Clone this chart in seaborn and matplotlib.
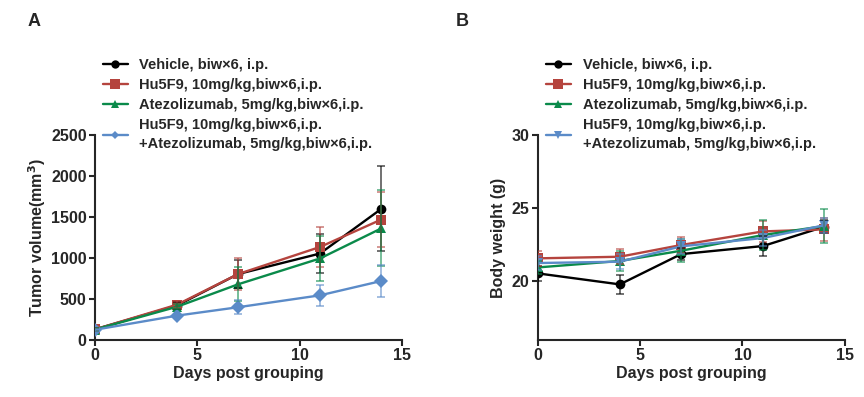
import numpy as np
import pandas as pd
import seaborn as sns
import matplotlib.pyplot as plt

# dane
days = [0, 4, 7, 11, 14]
groups = ['Vehicle, biw×6, i.p.',
          'Hu5F9, 10mg/kg,biw×6,i.p.',
          'Atezolizumab, 5mg/kg,biw×6,i.p.',
          'Hu5F9, 10mg/kg,biw×6,i.p.\n+Atezolizumab, 5mg/kg,biw×6,i.p.']

tumor_vehicle = [130, 420, 805, 1055, 1600]
tumor_hu5f9 = [130, 430, 805, 1135, 1470]
tumor_atezo = [128, 405, 680, 995, 1362]
tumor_combo = [125, 297, 400, 545, 720]
tumor_vehicle_sem = [15, 40, 175, 235, 520]
tumor_hu5f9_sem = [15, 40, 195, 250, 330]
tumor_atezo_sem = [15, 30, 210, 270, 465]
tumor_combo_sem = [10, 20, 85, 125, 195]

bw_vehicle = [20.55, 19.8, 21.87, 22.42, 23.74]
bw_hu5f9 = [21.58, 21.69, 22.49, 23.42, 23.56]
bw_atezo = [20.96, 21.4, 22.1, 23.17, 23.79]
bw_combo = [21.26, 21.35, 22.4, 22.97, 23.84]
bw_vehicle_sem = [0.5, 0.63, 0.4, 0.7, 0.45]
bw_hu5f9_sem = [0.5, 0.5, 0.55, 0.7, 0.8]
bw_atezo_sem = [0.45, 0.7, 0.8, 1.0, 1.15]
bw_combo_sem = [0.45, 0.5, 0.5, 0.55, 0.5]

colors = ['#000000', '#B5443E', '#0A8A4A', '#5B8BC8']

sns.set_style('ticks')
plt.rcParams['font.family'] = ['Liberation Sans', 'DejaVu Sans']
plt.rcParams['font.weight'] = 'bold'
plt.rcParams['axes.labelweight'] = 'bold'
plt.rcParams['axes.linewidth'] = 1.5
plt.rcParams['xtick.major.width'] = 1.5
plt.rcParams['ytick.major.width'] = 1.5
plt.rcParams['xtick.major.size'] = 4
plt.rcParams['ytick.major.size'] = 4


def long_df(values, sems):
    rows = []
    for g, v, s in zip(groups, values, sems):
        for d, m, e in zip(days, v, s):
            rows.append({'day': d, 'group': g, 'mean': m, 'sem': e})
    return pd.DataFrame(rows)


tumor = long_df([tumor_vehicle, tumor_hu5f9, tumor_atezo, tumor_combo],
                [tumor_vehicle_sem, tumor_hu5f9_sem, tumor_atezo_sem, tumor_combo_sem])
bw = long_df([bw_vehicle, bw_hu5f9, bw_atezo, bw_combo],
             [bw_vehicle_sem, bw_hu5f9_sem, bw_atezo_sem, bw_combo_sem])

fig = plt.figure(figsize=(8.64, 3.97), dpi=100)
axA = fig.add_axes([0.110, 0.1436, 0.355, 0.516])
axB = fig.add_axes([0.6227, 0.1436, 0.355, 0.516])


def draw(ax, df, markers, msizes, legsizes):
    for i, g in enumerate(groups):
        sub = df[df['group'] == g]
        ax.errorbar(sub['day'], sub['mean'], yerr=sub['sem'], fmt='none',
                    ecolor=colors[i], elinewidth=1.3, capsize=3, capthick=1.3,
                    alpha=0.6, zorder=4)
    sns.lineplot(data=df, x='day', y='mean', hue='group', style='group',
                 palette=colors, markers=markers, dashes=False, linewidth=1.7,
                 markersize=7, markeredgewidth=0, ax=ax, zorder=3)
    for line, ms in zip(ax.get_lines()[-4:], msizes):
        line.set_markersize(ms)
    h, l = ax.get_legend_handles_labels()
    ax.get_legend().remove()
    for hh, ms in zip(h, legsizes):
        hh.set_markersize(ms)
    return h, l


legA = draw(axA, tumor, ['o', 's', '^', 'D'], [7, 7.5, 7, 5], [6, 6.5, 6, 4.5])
legB = draw(axB, bw, ['o', 's', '^', 'v'], [7, 7.5, 7, 7], [6, 6.5, 6, 6])

for ax in (axA, axB):
    sns.despine(ax=ax)
    ax.set_xlim(0, 15)
    ax.set_xticks([0, 5, 10, 15])
    ax.set_xlabel('Days post grouping', fontsize=11.5, labelpad=2)
    ax.tick_params(labelsize=11.5, pad=2)

axA.set_ylim(0, 2500)
axA.set_yticks([0, 500, 1000, 1500, 2000, 2500])
axA.set_ylabel('Tumor volume(mm$^\\mathbf{3}$)', fontsize=11.5, labelpad=2)
axB.set_ylim(16, 30)
axB.set_yticks([20, 25, 30])
axB.set_ylabel('Body weight (g)', fontsize=11.5, labelpad=4)

for (h, l), x0 in ((legA, 0.119), (legB, 0.632)):
    leg = fig.legend(h, l, loc='upper left', bbox_to_anchor=(x0, 0.854), frameon=False,
                     fontsize=10.5, handlelength=1.7, handletextpad=0.8,
                     labelspacing=0.42, borderaxespad=0, borderpad=0)
    for t in leg.get_texts():
        t.set_linespacing(1.45)

fig.text(0.032, 0.935, 'A', fontsize=13, fontweight='bold')
fig.text(0.527, 0.935, 'B', fontsize=13, fontweight='bold')

fig.savefig('out.png', dpi=100)
